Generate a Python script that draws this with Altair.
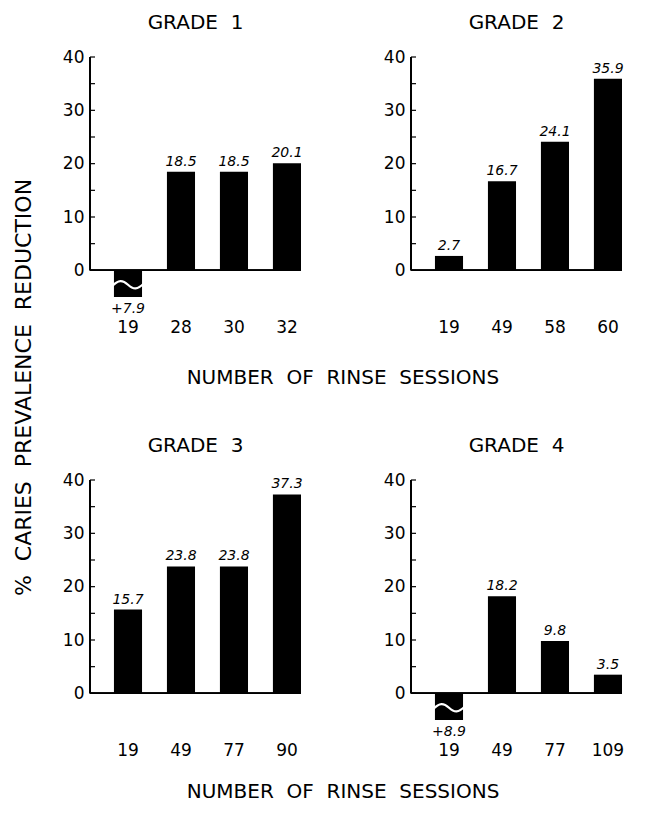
import altair as alt
import pandas as pd

GRADES = ["GRADE\u00a0\u00a01", "GRADE\u00a0\u00a02", "GRADE\u00a0\u00a03", "GRADE\u00a0\u00a04"]
SESSIONS = [
    ["19", "28", "30", "32"],
    ["19", "49", "58", "60"],
    ["19", "49", "77", "90"],
    ["19", "49", "77", "109"],
]
VALUES = [
    [-7.9, 18.5, 18.5, 20.1],
    [2.7, 16.7, 24.1, 35.9],
    [15.7, 23.8, 23.8, 37.3],
    [-8.9, 18.2, 9.8, 3.5],
]
Y_LABELS = [0, 10, 20, 30, 40]
Y_TICKS = [0, 5, 10, 15, 20, 25, 30, 35, 40]
X_TITLE = "NUMBER\u00a0\u00a0OF\u00a0\u00a0RINSE\u00a0\u00a0SESSIONS"
Y_TITLE = "%\u00a0\u00a0CARIES\u00a0\u00a0PREVALENCE\u00a0\u00a0REDUCTION"

FONT = "DejaVu Sans"
W = 211
H = 240
WAVE = "M -1 0.08 C -0.6 -0.32 -0.35 -0.32 0 0 C 0.35 0.32 0.6 0.32 1 -0.08"


def panel(i):
    df = pd.DataFrame({"sessions": SESSIONS[i], "value": VALUES[i]})
    base = alt.Chart(df).transform_calculate(
        label="datum.value < 0 ? '+' + format(-datum.value, '.1f') : format(datum.value, '.1f')"
    )
    x = alt.X(
        "sessions:N",
        sort=SESSIONS[i],
        scale=alt.Scale(paddingInner=0.47, paddingOuter=0.226, align=1),
        axis=alt.Axis(title=None, domain=False, ticks=False, labelAngle=0,
                      labelPadding=22, labelFontSize=17, labelFont=FONT,
                      labelColor="black"),
    )
    y = alt.Y(
        "value:Q",
        scale=alt.Scale(domain=[-5, 40], nice=False),
        axis=alt.Axis(title=None, domain=False, ticks=False, grid=False,
                      values=Y_LABELS, labelPadding=6, labelFontSize=17,
                      labelFont=FONT, labelColor="black"),
    )
    bars = base.mark_bar(color="black", clip=True).encode(x=x, y=y)
    wave = base.transform_filter("datum.value < 0").mark_point(
        shape=WAVE, size=1000, filled=False, stroke="white", strokeWidth=2.2, opacity=1
    ).encode(x=x, y=alt.datum(-2.7))
    yline = base.mark_rule(color="black", strokeWidth=1.5).encode(
        x=alt.value(0), y=alt.datum(0), y2=alt.datum(40)
    )
    baseline = base.mark_rule(color="black", strokeWidth=1.5).encode(
        x=alt.value(0), x2=alt.value(W), y=alt.datum(0)
    )
    ticks = alt.Chart(pd.DataFrame({"t": Y_TICKS})).mark_rule(
        color="black", strokeWidth=1.2
    ).encode(x=alt.value(0), x2=alt.value(5), y=alt.Y("t:Q"))
    pos_text = base.transform_filter("datum.value >= 0").mark_text(
        baseline="bottom", dy=-3, fontStyle="italic", fontSize=14, font=FONT, color="black"
    ).encode(x=x, y=y, text="label:N")
    neg_text = base.transform_filter("datum.value < 0").mark_text(
        baseline="top", dy=5, fontStyle="italic", fontSize=14, font=FONT, color="black"
    ).encode(x=x, y=alt.datum(-5), text="label:N")
    return alt.layer(bars, wave, yline, baseline, ticks, pos_text, neg_text).properties(
        width=W, height=H,
        title=alt.TitleParams(GRADES[i], fontSize=20, fontWeight="normal", font=FONT,
                              color="black", anchor="middle", offset=15),
    )


def row(a, b, offset):
    return alt.hconcat(panel(a), panel(b), spacing=80).properties(
        title=alt.TitleParams(X_TITLE, orient="bottom", anchor="middle", fontSize=20,
                              fontWeight="normal", font=FONT, color="black", offset=offset)
    )


chart = alt.vconcat(row(0, 1, 33), row(2, 3, 24), spacing=48).properties(
    title=alt.TitleParams(Y_TITLE, orient="left", anchor="middle", fontSize=22,
                          fontWeight="normal", font=FONT, color="black", offset=26,
                          dx=20)
).configure_view(stroke=None)

chart.save("out.html", embed_options={"renderer": "svg", "actions": False})
